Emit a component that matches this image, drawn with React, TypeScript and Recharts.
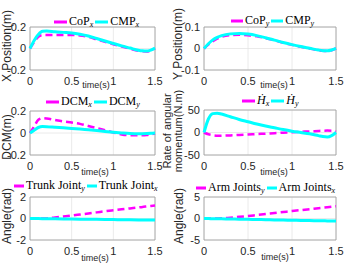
import React from 'react';
import { LineChart, Line, XAxis, YAxis, CartesianGrid, Legend, ReferenceArea } from 'recharts';

// sample times (s)
const time = [0, 0.05, 0.1, 0.15, 0.2, 0.3, 0.4, 0.5, 0.6, 0.7, 0.8, 0.9, 1.0, 1.1, 1.2, 1.3, 1.35, 1.4, 1.45, 1.5];
const timeTicks = [0, 0.5, 1, 1.5];

const copX = [0, 0.06, 0.11, 0.125, 0.125, 0.125, 0.125, 0.125, 0.122, 0.108, 0.085, 0.062, 0.04, 0.018, -0.002, -0.02, -0.026, -0.027, -0.018, 0];
const cmpX = [0, 0.075, 0.13, 0.16, 0.162, 0.155, 0.15, 0.145, 0.133, 0.116, 0.093, 0.07, 0.047, 0.024, 0.004, -0.016, -0.022, -0.024, -0.015, 0.005];

const copY = [0, 0.018, 0.034, 0.046, 0.054, 0.062, 0.064, 0.062, 0.057, 0.048, 0.038, 0.027, 0.017, 0.008, 0, -0.008, -0.011, -0.012, -0.008, 0];
const cmpY = [0, 0.022, 0.04, 0.052, 0.06, 0.068, 0.07, 0.067, 0.06, 0.05, 0.039, 0.028, 0.018, 0.009, 0.001, -0.007, -0.01, -0.011, -0.007, 0.001];

const dcmX = [0, 0.06, 0.12, 0.135, 0.132, 0.118, 0.105, 0.095, 0.083, 0.064, 0.045, 0.025, 0.005, -0.013, -0.02, -0.02, -0.02, -0.018, -0.012, -0.005];
const dcmY = [0, 0.025, 0.05, 0.058, 0.057, 0.052, 0.047, 0.042, 0.036, 0.029, 0.022, 0.014, 0.007, 0.001, -0.004, -0.006, -0.006, -0.005, -0.003, 0];

const hdotX = [0, -4, -6, -7, -7, -6.5, -5.5, -4.5, -3.5, -2.5, -1.5, -0.5, 0.5, 1.5, 2.5, 3.5, 4, 4.2, 4, 2];
const hdotY = [0, 30, 42, 43, 41, 35, 29, 24, 19, 14.5, 10.5, 6.5, 3, 0, -3, -7, -9, -10, -7, 0];

const trunkY = [0, 0, 0, 0, 0.01, 0.1, 0.18, 0.27, 0.37, 0.47, 0.57, 0.67, 0.76, 0.85, 0.94, 1.03, 1.08, 1.12, 1.16, 1.2];
const trunkX = [0, -0.005, -0.01, -0.015, -0.02, -0.03, -0.04, -0.05, -0.06, -0.07, -0.08, -0.09, -0.1, -0.11, -0.12, -0.13, -0.135, -0.14, -0.145, -0.15];

const armY = [0, 0, 0, 0.01, 0.03, 0.2, 0.38, 0.57, 0.8, 1.03, 1.27, 1.5, 1.73, 1.95, 2.17, 2.4, 2.51, 2.62, 2.74, 2.85];
const armX = [0, -0.02, -0.04, -0.06, -0.08, -0.12, -0.16, -0.2, -0.24, -0.28, -0.32, -0.36, -0.4, -0.44, -0.48, -0.52, -0.54, -0.56, -0.58, -0.6];

const MAGENTA = '#ff00ff';
const CYAN = '#00ffff';
const SANS = '"Liberation Sans", Arial, sans-serif';
const SERIF = '"Liberation Serif", "Times New Roman", serif';
const W = 345;
const H = 265;

const panels = [
  {
    id: 'p1', x0: 30, x1: 155, y0: 27, y1: 70, domain: [-0.2, 0.2], ticks: [-0.2, 0, 0.2],
    yLabel: ['X Position(m)'], yLabelX: [7], yLabelY: 46, xLabelX: 96, xLabelY: 85,
    legendLeft: 54, legendTop: 14, sample: 13,
    series: [
      { base: 'CoP', sub: 'x', values: copX, color: MAGENTA, dashed: true },
      { base: 'CMP', sub: 'x', values: cmpX, color: CYAN, dashed: false },
    ],
  },
  {
    id: 'p2', x0: 204, x1: 336, y0: 27, y1: 70, domain: [-0.1, 0.1], ticks: [-0.1, 0, 0.1],
    yLabel: ['Y Position(m)'], yLabelX: [178], yLabelY: 44, xLabelX: 274, xLabelY: 85,
    legendLeft: 231, legendTop: 13, sample: 12,
    series: [
      { base: 'CoP', sub: 'y', values: copY, color: MAGENTA, dashed: true },
      { base: 'CMP', sub: 'y', values: cmpY, color: CYAN, dashed: false },
    ],
  },
  {
    id: 'p3', x0: 30, x1: 155, y0: 111, y1: 155, domain: [-0.2, 0.2], ticks: [-0.2, 0, 0.2],
    yLabel: ['DCM(m)'], yLabelX: [7], yLabelY: 137, xLabelX: 95, xLabelY: 172,
    legendLeft: 46, legendTop: 94, sample: 13,
    series: [
      { base: 'DCM', sub: 'x', values: dcmX, color: MAGENTA, dashed: true },
      { base: 'DCM', sub: 'y', values: dcmY, color: CYAN, dashed: false },
    ],
  },
  {
    id: 'p4', x0: 204, x1: 336, y0: 110, y1: 155, domain: [-50, 50], ticks: [-50, 0, 50],
    yLabel: ['Rate of angular', 'momentum(N.m)'], yLabelX: [167, 178], yLabelY: 131, xLabelX: 274, xLabelY: 172,
    legendLeft: 242, legendTop: 93, sample: 13, italic: true,
    series: [
      { base: '\u1E22', sub: 'x', values: hdotX, color: MAGENTA, dashed: true },
      { base: '\u1E22', sub: 'y', values: hdotY, color: CYAN, dashed: false },
    ],
  },
  {
    id: 'p5', x0: 30, x1: 155, y0: 197, y1: 240, domain: [-2, 2], ticks: [-2, 0, 2],
    yLabel: ['Angle(rad)'], yLabelX: [7], yLabelY: 216, xLabelX: 95, xLabelY: 258,
    legendLeft: 14, legendTop: 178, sample: 10,
    series: [
      { base: 'Trunk Joint', sub: 'y', values: trunkY, color: MAGENTA, dashed: true },
      { base: 'Trunk Joint', sub: 'x', values: trunkX, color: CYAN, dashed: false },
    ],
  },
  {
    id: 'p6', x0: 204, x1: 336, y0: 197, y1: 240, domain: [-5, 5], ticks: [-5, 0, 5],
    yLabel: ['Angle(rad)'], yLabelX: [179], yLabelY: 216, xLabelX: 275, xLabelY: 257,
    legendLeft: 196, legendTop: 180, sample: 10,
    series: [
      { base: 'Arm Joints', sub: 'y', values: armY, color: MAGENTA, dashed: true },
      { base: 'Arm Joints', sub: 'x', values: armX, color: CYAN, dashed: false },
    ],
  },
];

const Panel = ({ p }: { p: any }) => {
  const rows = time.map((t, i) => ({ t, s0: p.series[0].values[i], s1: p.series[1].values[i] }));

  const legend = () => (
    <div style={{ display: 'flex', alignItems: 'center', fontFamily: SERIF, fontSize: 12, color: '#000', whiteSpace: 'nowrap', lineHeight: '14px' }}>
      {p.series.map((s: any, i: number) => (
        <span key={i} style={{ display: 'flex', alignItems: 'center', marginRight: 2 }}>
          <svg width={p.sample} height={6}>
            <line x1={0} y1={3} x2={p.sample} y2={3} stroke={s.color} strokeWidth={3} />
          </svg>
          <span style={{ marginLeft: 2 }}>
            <span style={{ fontStyle: p.italic ? 'italic' : 'normal' }}>{s.base}</span>
            <span style={{ fontStyle: 'italic', fontSize: 8, position: 'relative', top: 2 }}>{s.sub}</span>
          </span>
        </span>
      ))}
    </div>
  );

  const yLabel = () => (
    <g>
      {p.yLabel.map((txt: string, i: number) => (
        <text
          key={i}
          x={p.yLabelX[i]}
          y={p.yLabelY}
          transform={`rotate(-90, ${p.yLabelX[i]}, ${p.yLabelY})`}
          textAnchor="middle"
          dominantBaseline="central"
          fontFamily={SANS}
          fontSize={p.yLabel.length > 1 ? 11 : 12}
          fill="#262626"
        >
          {txt}
        </text>
      ))}
    </g>
  );

  const xLabel = () => (
    <text x={p.xLabelX} y={p.xLabelY} textAnchor="middle" dominantBaseline="central" fontFamily={SANS} fontSize={9} fill="#262626">
      time(s)
    </text>
  );

  const tick = { fontSize: 11, fill: '#262626', fontFamily: SANS };

  return (
    <div style={{ position: 'absolute', left: 0, top: 0 }}>
      <LineChart
        width={W}
        height={H}
        data={rows}
        margin={{ top: p.y0, left: p.x0 - 30, right: W - p.x1, bottom: H - p.y1 - 20 }}
      >
        <CartesianGrid stroke="#e4e4e4" strokeWidth={0.8} />
        <XAxis
          type="number"
          dataKey="t"
          domain={[0, 1.5]}
          ticks={timeTicks}
          interval={0}
          height={20}
          axisLine={false}
          tickLine={false}
          tickSize={3}
          tickMargin={4}
          tick={tick}
          label={xLabel}
        />
        <YAxis
          type="number"
          domain={p.domain}
          ticks={p.ticks}
          interval={0}
          width={30}
          axisLine={false}
          tickLine={false}
          tickSize={2}
          tickMargin={2}
          tick={tick}
          label={yLabel}
        />
        <ReferenceArea x1={0} x2={1.5} y1={p.domain[0]} y2={p.domain[1]} fill="none" stroke="#9c9c9c" strokeWidth={0.8} />
        <Line
          dataKey="s0"
          type="monotone"
          stroke={p.series[0].color}
          strokeWidth={2.5}
          strokeDasharray="7 4"
          dot={false}
          isAnimationActive={false}
        />
        <Line
          dataKey="s1"
          type="monotone"
          stroke={p.series[1].color}
          strokeWidth={3}
          dot={false}
          isAnimationActive={false}
        />
        <Legend
          layout="horizontal"
          verticalAlign="middle"
          align="center"
          content={legend}
          wrapperStyle={{ left: p.legendLeft, top: p.legendTop, width: 'auto', height: 14 }}
        />
      </LineChart>
    </div>
  );
};

export default function App() {
  return (
    <div style={{ position: 'absolute', left: 0, top: 0, width: W, height: H, background: '#fff', overflow: 'hidden' }}>
      {panels.map((p) => (
        <Panel key={p.id} p={p} />
      ))}
    </div>
  );
}
